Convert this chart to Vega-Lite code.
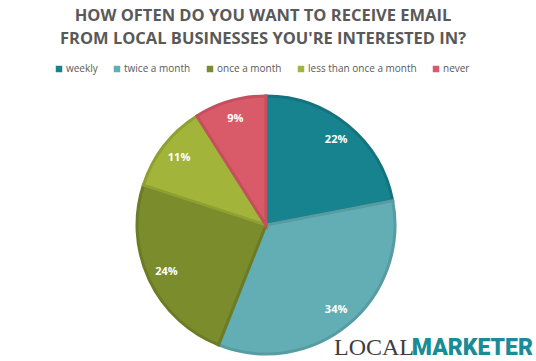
{
  "$schema": "https://vega.github.io/schema/vega-lite/v6.json",
  "width": 532,
  "height": 270,
  "autosize": {"type": "none"},
  "padding": {"left": 0, "top": 90, "right": 4, "bottom": 1},
  "background": "white",
  "config": {"view": {"stroke": null}},
  "title": {
    "text": ["HOW OFTEN DO YOU WANT TO RECEIVE EMAIL", "FROM LOCAL BUSINESSES YOU'RE INTERESTED IN?"],
    "font": "Open Sans",
    "fontSize": 16.5,
    "fontWeight": "bold",
    "color": "#595959",
    "lineHeight": 23,
    "anchor": "middle",
    "frame": "group",
    "offset": 17,
    "dx": -3
  },
  "data": {
    "values": [
      {"idx": 1, "freq": "weekly", "pct": 22},
      {"idx": 2, "freq": "twice a month", "pct": 34},
      {"idx": 3, "freq": "once a month", "pct": 24},
      {"idx": 4, "freq": "less than once a month", "pct": 11},
      {"idx": 5, "freq": "never", "pct": 9}
    ]
  },
  "layer": [
    {
      "mark": {"type": "arc", "outerRadius": 129, "strokeWidth": 3},
      "encoding": {
        "theta": {"field": "pct", "type": "quantitative", "stack": true},
        "order": {"field": "idx", "type": "quantitative"},
        "color": {
          "field": "freq",
          "type": "nominal",
          "scale": {
            "domain": ["weekly", "twice a month", "once a month", "less than once a month", "never"],
            "range": ["#17838F", "#63AEB4", "#7A8C2C", "#A2B43A", "#D95B6A"]
          },
          "legend": {
            "orient": "none",
            "legendX": 54,
            "legendY": -26,
            "direction": "horizontal",
            "columns": 5,
            "title": null,
            "symbolType": "square",
            "symbolSize": 42,
            "symbolStrokeWidth": 0,
            "labelFont": "Open Sans",
            "labelFontSize": 10,
            "labelColor": "#595959",
            "labelOffset": 2,
            "columnPadding": 14
          }
        },
        "stroke": {
          "field": "freq",
          "type": "nominal",
          "scale": {
            "domain": ["weekly", "twice a month", "once a month", "less than once a month", "never"],
            "range": ["#13737E", "#569CA2", "#6B7C24", "#8FA032", "#C54F5E"]
          },
          "legend": null
        }
      }
    },
    {
      "mark": {"type": "text", "radius": 110, "font": "Open Sans", "fontWeight": "bold", "fontSize": 11, "fill": "white"},
      "encoding": {
        "theta": {"field": "pct", "type": "quantitative", "stack": true},
        "order": {"field": "idx", "type": "quantitative"},
        "text": {"field": "label", "type": "nominal"}
      },
      "transform": [{"calculate": "datum.pct + '%'", "as": "label"}]
    },
    {
      "data": {"values": [{"t": "MARKETER"}]},
      "mark": {"type": "text", "x": "width", "y": "height", "align": "right", "baseline": "alphabetic", "dy": -5, "dx": 1, "font": "Roboto", "fontWeight": 900, "fontSize": 23, "fill": "#1B8C96"},
      "encoding": {"text": {"field": "t", "type": "nominal"}}
    },
    {
      "data": {"values": [{"t": "LOCAL"}]},
      "mark": {"type": "text", "x": "width", "y": "height", "align": "right", "baseline": "alphabetic", "dy": -5, "dx": -118, "font": "Liberation Serif", "fontWeight": "normal", "fontSize": 24, "fill": "#3d3d3d"},
      "encoding": {"text": {"field": "t", "type": "nominal"}}
    }
  ]
}
